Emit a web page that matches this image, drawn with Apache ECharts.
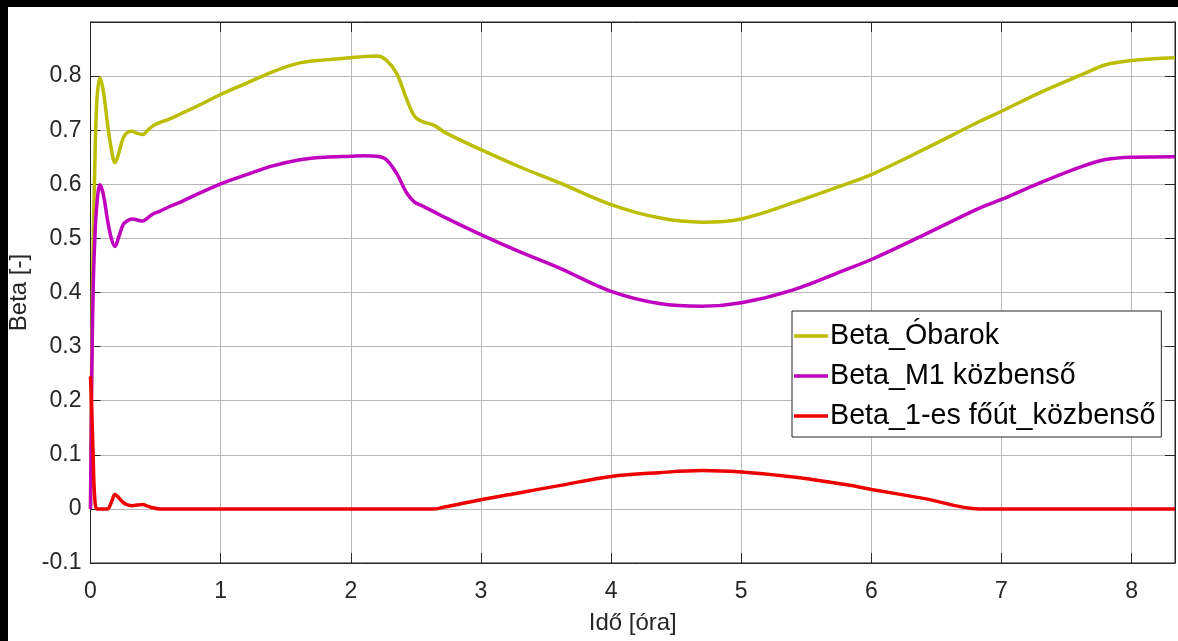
<!DOCTYPE html>
<html>
<head>
<meta charset="utf-8">
<script src="https://cdn.jsdelivr.net/npm/echarts@6/dist/echarts.min.js"></script>
<style>
  html, body { margin: 0; padding: 0; background: #000; width: 1178px; height: 641px; overflow: hidden; }
  #chart { position: absolute; left: 8px; top: 7px; width: 1170px; height: 634px; background: #fff; }
</style>
</head>
<body>
<div id="chart"></div>
<script>
// Time in hours
const timeHours = [0, 0.01, 0.02, 0.03, 0.048, 0.073, 0.1, 0.13, 0.16, 0.188, 0.22, 0.25, 0.28, 0.32, 0.36, 0.4, 0.44, 0.48, 0.53, 0.6, 0.7, 0.85, 1.0, 1.2, 1.4, 1.6, 1.8, 2.0, 2.1, 2.2, 2.27, 2.35, 2.43, 2.49, 2.55, 2.64, 2.73, 3.0, 3.3, 3.6, 4.0, 4.37, 4.7, 5.0, 5.4, 5.8, 6.0, 6.4, 6.83, 7.0, 7.3, 7.62, 7.8, 8.0, 8.333];

const betaObarok = [0.0, 0.30, 0.48, 0.60, 0.75, 0.797, 0.77, 0.713, 0.665, 0.640, 0.660, 0.685, 0.695, 0.698, 0.694, 0.692, 0.700, 0.708, 0.714, 0.720, 0.731, 0.748, 0.766, 0.787, 0.808, 0.824, 0.830, 0.834, 0.836, 0.837, 0.830, 0.806, 0.757, 0.726, 0.716, 0.709, 0.695, 0.664, 0.632, 0.603, 0.5625, 0.538, 0.530, 0.536, 0.566, 0.600, 0.618, 0.664, 0.716, 0.735, 0.770, 0.803, 0.821, 0.829, 0.834];

const betaM1 = [0.0, 0.25, 0.40, 0.48, 0.56, 0.599, 0.58, 0.535, 0.50, 0.485, 0.505, 0.525, 0.532, 0.536, 0.534, 0.532, 0.538, 0.545, 0.550, 0.558, 0.568, 0.585, 0.601, 0.618, 0.634, 0.645, 0.650, 0.652, 0.653, 0.652, 0.646, 0.621, 0.584, 0.567, 0.560, 0.549, 0.538, 0.507, 0.475, 0.4455, 0.402, 0.3795, 0.3745, 0.381, 0.405, 0.442, 0.461, 0.506, 0.556, 0.572, 0.603, 0.633, 0.6457, 0.650, 0.651];

const betaFout = [0.245, 0.18, 0.10, 0.03, 0.0, 0.0, 0.0, 0.0, 0.012, 0.0265, 0.02, 0.012, 0.008, 0.006, 0.007, 0.008, 0.005, 0.002, 0.0, 0, 0, 0, 0, 0, 0, 0, 0, 0, 0, 0, 0, 0, 0, 0, 0, 0, 0.004, 0.017, 0.030, 0.043, 0.060, 0.067, 0.0708, 0.068, 0.059, 0.045, 0.036, 0.0195, 0.0, 0, 0, 0, 0, 0, 0];

const seriesNames = ['Beta_Óbarok', 'Beta_M1 közbenső', 'Beta_1-es főút_közbenső'];
const seriesColors = ['#BDBD00', '#BF00BF', '#EE0000'];
const xAxisTitle = 'Idő [óra]';
const yAxisTitle = 'Beta [-]';

const pairs = vals => timeHours.map((t, i) => [t, vals[i]]);
const allValues = [betaObarok, betaM1, betaFout];

const font = "'Liberation Sans', Arial, sans-serif";
const ink = '#262626';

const chart = echarts.init(document.getElementById('chart'), null, { renderer: 'canvas' });

const xBase = { type: 'value', min: 0, max: 8.333, interval: 1 };
const yBase = { type: 'value', min: -0.1, max: 0.9, interval: 0.1 };
const frameLine = { show: true, onZero: false, lineStyle: { color: ink, width: 1 } };
const innerTick = { show: true, inside: true, length: 10, lineStyle: { color: ink } };

chart.setOption({
  animation: false,
  backgroundColor: '#fff',
  textStyle: { fontFamily: font },
  grid: {
    left: 82.5, right: 3, top: 15, bottom: 78,
    containLabel: false, outerBoundsMode: 'none',
    show: true, borderColor: ink, borderWidth: 1, backgroundColor: '#fff'
  },
  xAxis: [
    Object.assign({}, xBase, {
      position: 'bottom',
      name: xAxisTitle, nameLocation: 'middle', nameGap: 48,
      nameTextStyle: { fontSize: 24, color: ink, fontFamily: font },
      axisLine: frameLine,
      axisTick: innerTick,
      axisLabel: {
        fontSize: 23, color: ink, fontFamily: font, margin: 17,
        formatter: v => (Math.abs(v - Math.round(v)) < 1e-6 ? String(Math.round(v)) : '')
      },
      splitLine: { show: true, lineStyle: { color: '#b8b8b8', width: 1 } }
    }),
    Object.assign({}, xBase, {
      position: 'top',
      axisLine: frameLine,
      axisTick: innerTick,
      axisLabel: { show: false },
      splitLine: { show: false }
    })
  ],
  yAxis: [
    Object.assign({}, yBase, {
      position: 'left',
      name: yAxisTitle, nameLocation: 'middle', nameGap: 57, nameRotate: 90,
      nameTextStyle: { fontSize: 24, color: ink, fontFamily: font },
      axisLine: frameLine,
      axisTick: innerTick,
      axisLabel: {
        fontSize: 23, color: ink, fontFamily: font, margin: 9,
        formatter: v => (v > 0.85 ? '' : String(Math.round(v * 10) / 10))
      },
      splitLine: { show: true, lineStyle: { color: '#b8b8b8', width: 1 } }
    }),
    Object.assign({}, yBase, {
      position: 'right',
      axisLine: frameLine,
      axisTick: innerTick,
      axisLabel: { show: false },
      splitLine: { show: false }
    })
  ],
  legend: {
    left: 784, top: 304,
    orient: 'vertical',
    icon: 'rect', itemWidth: 34, itemHeight: 3.5, itemGap: 10,
    padding: [10, 6, 6, 2],
    backgroundColor: '#fff', borderColor: ink, borderWidth: 1, borderRadius: 0,
    textStyle: { fontSize: 28.7, color: '#000', fontFamily: font, lineHeight: 30, padding: [0, 0, 0, -3] },
    data: seriesNames
  },
  series: allValues.map((vals, i) => ({
    name: seriesNames[i],
    type: 'line',
    xAxisIndex: 0, yAxisIndex: 0,
    data: pairs(vals),
    showSymbol: false, symbol: 'none',
    smooth: 0.35,
    color: seriesColors[i],
    lineStyle: { color: seriesColors[i], width: 3.5 },
    z: 2 + i
  }))
});
</script>
</body>
</html>
